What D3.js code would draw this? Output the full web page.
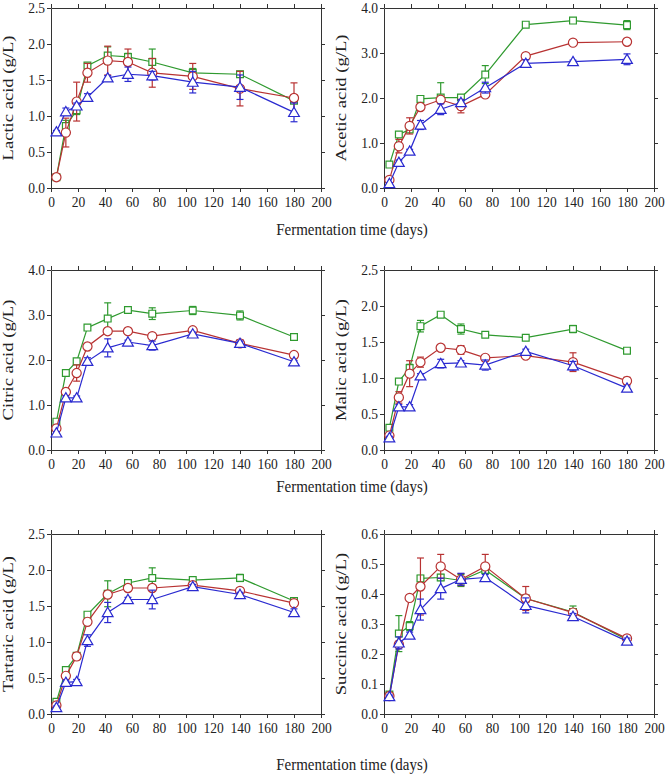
<!DOCTYPE html>
<html><head><meta charset="utf-8">
<script src="https://cdn.jsdelivr.net/npm/d3@7"></script>
<style>
body{margin:0;background:#fff;}
svg{display:block;}
text{font-family:"Liberation Serif","Times New Roman",serif;fill:#222;}
</style></head>
<body>
<svg id="chart" width="666" height="774"></svg>
<script>
const days = [4, 11, 19, 27, 42, 57, 75, 105, 140, 180];
const xTicks = [0,20,40,60,80,100,120,140,160,180,200];
const xTitle = "Fermentation time (days)";

const lacticG = [0.15,0.86,1.08,1.70,1.84,1.82,1.75,1.60,1.58,1.21];
const lacticGe = [0.02,0.08,0.06,0.03,0.12,0.05,0.18,0.06,0.04,0.03];
const lacticR = [0.15,0.77,1.20,1.60,1.77,1.75,1.60,1.55,1.38,1.25];
const lacticRe = [0.01,0.20,0.27,0.13,0.20,0.18,0.20,0.18,0.24,0.21];
const lacticB = [0.78,1.06,1.14,1.26,1.53,1.58,1.56,1.47,1.40,1.05];
const lacticBe = [0.02,0.05,0.04,0.05,0.03,0.10,0.06,0.15,0.17,0.13];

const aceticG = [0.52,1.19,1.30,1.98,2.01,2.01,2.52,3.63,3.72,3.62];
const aceticGe = [0.02,0.05,0.05,0.03,0.33,0.06,0.20,0.03,0.03,0.10];
const aceticR = [0.18,0.93,1.38,1.80,1.96,1.82,2.08,2.93,3.23,3.25];
const aceticRe = [0.02,0.15,0.18,0.05,0.05,0.15,0.07,0.04,0.03,0.03];
const aceticB = [0.10,0.57,0.82,1.40,1.75,1.90,2.23,2.77,2.81,2.86];
const aceticBe = [0.02,0.05,0.04,0.10,0.12,0.06,0.12,0.08,0.03,0.12];

const citricG = [0.63,1.71,1.97,2.72,2.92,3.11,3.03,3.10,2.99,2.51];
const citricGe = [0.02,0.03,0.03,0.05,0.35,0.03,0.13,0.09,0.10,0.03];
const citricR = [0.48,1.29,1.71,2.30,2.64,2.64,2.53,2.66,2.37,2.11];
const citricRe = [0.02,0.05,0.18,0.04,0.05,0.03,0.04,0.03,0.08,0.04];
const citricB = [0.38,1.16,1.16,1.97,2.27,2.40,2.32,2.58,2.37,1.96];
const citricBe = [0.02,0.04,0.04,0.08,0.20,0.04,0.10,0.04,0.05,0.03];

const malicG = [0.31,0.95,1.14,1.72,1.88,1.68,1.60,1.56,1.68,1.38];
const malicGe = [0.02,0.03,0.05,0.08,0.02,0.07,0.02,0.02,0.05,0.02];
const malicR = [0.20,0.73,1.06,1.22,1.42,1.39,1.28,1.31,1.22,0.96];
const malicRe = [0.02,0.08,0.18,0.07,0.03,0.06,0.03,0.03,0.13,0.05];
const malicB = [0.17,0.60,0.60,1.03,1.20,1.21,1.18,1.37,1.17,0.86];
const malicBe = [0.02,0.03,0.03,0.03,0.06,0.03,0.07,0.03,0.06,0.03];

const tartaricG = [0.17,0.61,0.81,1.38,1.67,1.82,1.89,1.86,1.89,1.57];
const tartaricGe = [0.02,0.03,0.04,0.03,0.18,0.03,0.14,0.02,0.05,0.02];
const tartaricR = [0.12,0.53,0.80,1.28,1.66,1.75,1.75,1.79,1.71,1.54];
const tartaricRe = [0.02,0.03,0.05,0.03,0.03,0.02,0.03,0.02,0.02,0.02];
const tartaricB = [0.09,0.44,0.45,1.02,1.41,1.59,1.59,1.77,1.66,1.41];
const tartaricBe = [0.02,0.03,0.03,0.08,0.14,0.03,0.13,0.03,0.03,0.05];

const succinicG = [0.065,0.268,0.293,0.452,0.455,0.445,0.480,0.385,0.340,0.248];
const succinicGe = [0.005,0.06,0.015,0.01,0.01,0.02,0.01,0.01,0.02,0.01];
const succinicR = [0.060,0.232,0.387,0.425,0.492,0.448,0.492,0.385,0.338,0.252];
const succinicRe = [0.005,0.01,0.01,0.095,0.04,0.02,0.04,0.04,0.01,0.01];
const succinicB = [0.058,0.237,0.263,0.348,0.418,0.449,0.455,0.362,0.325,0.243];
const succinicBe = [0.005,0.02,0.01,0.035,0.035,0.02,0.01,0.025,0.01,0.01];

const titles = ["Lactic acid (g/L)","Acetic acid (g/L)","Citric acid (g/L)","Malic acid (g/L)","Tartaric acid (g/L)","Succinic acid (g/L)"];
const yMax = [2.5, 4.0, 4.0, 2.5, 2.5, 0.6];
const yStep = [0.5, 1.0, 1.0, 0.5, 0.5, 0.1];

const panels = [
  {G:lacticG,Ge:lacticGe,R:lacticR,Re:lacticRe,B:lacticB,Be:lacticBe},
  {G:aceticG,Ge:aceticGe,R:aceticR,Re:aceticRe,B:aceticB,Be:aceticBe},
  {G:citricG,Ge:citricGe,R:citricR,Re:citricRe,B:citricB,Be:citricBe},
  {G:malicG,Ge:malicGe,R:malicR,Re:malicRe,B:malicB,Be:malicBe},
  {G:tartaricG,Ge:tartaricGe,R:tartaricR,Re:tartaricRe,B:tartaricB,Be:tartaricBe},
  {G:succinicG,Ge:succinicGe,R:succinicR,Re:succinicRe,B:succinicB,Be:succinicBe}
];

const colG = "#2f9a2f", colR = "#b83232", colB = "#2a2ad0", axisCol = "#333";
const svg = d3.select("#chart");
const colX = [51, 384], pw = 270;
const rowY = [8, 270, 534], ph = 180;
const xTitleY = [235, 492, 770];

panels.forEach((p, i) => {
  const cx = colX[i % 2], ry = rowY[Math.floor(i / 2)];
  const g = svg.append("g").attr("transform", `translate(${cx},${ry})`);
  const x = d3.scaleLinear().domain([0, 200]).range([0, pw]);
  const y = d3.scaleLinear().domain([0, yMax[i]]).range([ph, 0]);
  const yT = d3.range(0, yMax[i] + yStep[i] / 2, yStep[i]);

  const ax = (sel) => {
    sel.selectAll("path,line").attr("stroke", axisCol).attr("stroke-width", 1);
    sel.selectAll("text").style("font-size","13.5px").attr("fill","#222").attr("transform","scale(1,1.15)");
  };
  g.append("g").attr("transform", `translate(0,${ph})`)
    .call(d3.axisBottom(x).tickValues(xTicks).tickSize(4).tickSizeOuter(0).tickPadding(3).tickFormat(d3.format("d"))).call(ax);
  g.append("g").call(d3.axisTop(x).tickValues(xTicks).tickSize(4).tickSizeOuter(0).tickFormat("")).call(ax);
  g.append("g").call(d3.axisLeft(y).tickValues(yT).tickSize(4).tickSizeOuter(0).tickPadding(2).tickFormat(d3.format(".1f"))).call(ax);
  g.append("g").attr("transform", `translate(${pw},0)`)
    .call(d3.axisRight(y).tickValues(yT).tickSize(4).tickSizeOuter(0).tickFormat("")).call(ax);

  g.append("text").attr("transform", `translate(-38,${ph/2}) rotate(-90) scale(1.2,1)`)
    .attr("text-anchor","middle").style("font-size","15.5px").text(titles[i]);

  const series = [
    {v:p.G, e:p.Ge, c:colG, m:"square"},
    {v:p.R, e:p.Re, c:colR, m:"circle"},
    {v:p.B, e:p.Be, c:colB, m:"triangle"}
  ];
  series.forEach(s => {
    const pts = days.map((d, k) => ({d, v:s.v[k], e:s.e[k]}));
    g.append("path").datum(pts).attr("fill","none").attr("stroke",s.c).attr("stroke-width",1.2)
      .attr("d", d3.line().x(q => x(q.d)).y(q => y(q.v)));
    const eb = g.append("g").attr("stroke", s.c).attr("stroke-width", 1.2);
    pts.forEach(q => {
      const x0 = x(q.d), y1 = y(q.v + q.e), y2 = y(q.v - q.e);
      eb.append("line").attr("x1",x0).attr("x2",x0).attr("y1",y1).attr("y2",y2);
      eb.append("line").attr("x1",x0-3.5).attr("x2",x0+3.5).attr("y1",y1).attr("y2",y1);
      eb.append("line").attr("x1",x0-3.5).attr("x2",x0+3.5).attr("y1",y2).attr("y2",y2);
    });
    const sym = s.m === "square" ? d3.symbolSquare : s.m === "circle" ? d3.symbolCircle : d3.symbolTriangle;
    const size = s.m === "square" ? 46 : s.m === "circle" ? 66 : 50;
    g.append("g").selectAll("path").data(pts).join("path")
      .attr("transform", q => `translate(${x(q.d)},${y(q.v) + (s.m === "triangle" ? 1 : 0)})`)
      .attr("d", d3.symbol().type(sym).size(size))
      .attr("fill","#fff").attr("stroke", s.c).attr("stroke-width", 1.2);
  });

  if (i % 2 === 0) {
    svg.append("text").attr("transform", `translate(352,${xTitleY[Math.floor(i/2)]}) scale(1,1.15)`)
      .attr("text-anchor","middle").style("font-size","15px").text(xTitle);
  }
});
</script>
</body></html>
